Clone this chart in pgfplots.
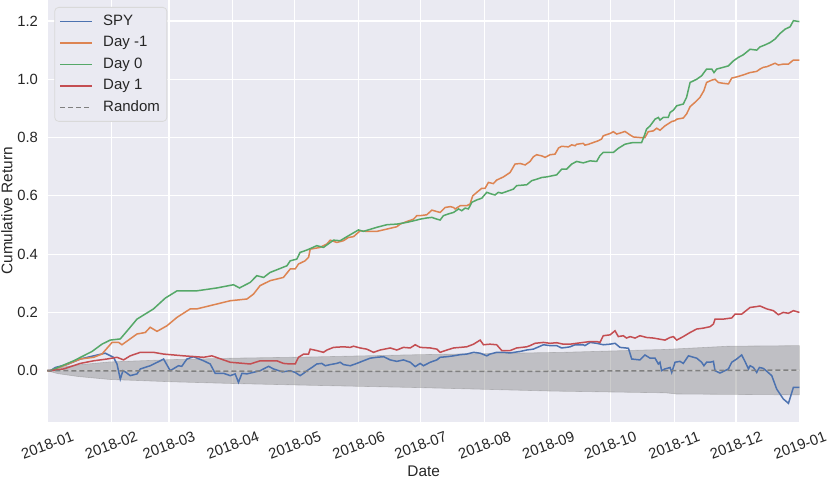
\documentclass[border=0pt]{standalone}
\usepackage{fontspec}
\setmainfont{Liberation Sans}
\usepackage{pgfplots}
\pgfplotsset{compat=1.18}
\definecolor{bgc}{HTML}{EAEAF2}
\definecolor{sblue}{HTML}{4C72B0}
\definecolor{sorange}{HTML}{DD8452}
\definecolor{sgreen}{HTML}{55A868}
\definecolor{sred}{HTML}{C44E52}
\begin{document}
\begin{tikzpicture}
\begin{axis}[
  scale only axis,
  width=376.35pt, height=210.85pt,
  xmin=0, xmax=365, ymin=-0.175, ymax=1.272,
  axis background/.style={fill=bgc},
  axis line style={draw=none},
  major tick length=0pt,
  grid=major,
  major grid style={white, line width=0.6pt},
  xtick={0,31,59,90,120,151,181,212,243,273,304,334,365},
  xticklabels={2018-01,2018-02,2018-03,2018-04,2018-05,2018-06,2018-07,2018-08,2018-09,2018-10,2018-11,2018-12,2019-01},
  ytick={0,0.2,0.4,0.6,0.8,1.0,1.2},
  /pgf/number format/assume math mode=true,
  yticklabel style={/pgf/number format/fixed, /pgf/number format/fixed zerofill, /pgf/number format/precision=1, inner sep=0pt},
  ticklabel style={font=\fontsize{7.4}{9}\selectfont, text=black!85},
  xticklabel style={rotate=20, anchor=center},
  xticklabel shift=11.8pt,
  yticklabel shift=4.5pt,
  xlabel={Date},
  ylabel={Cumulative Return},
  label style={font=\fontsize{7.7}{9}\selectfont, text=black!85},
  xlabel style={at={(axis description cs:0.5,-0.1169)}, anchor=center},
  ylabel style={at={(axis description cs:-0.0537,0.5)}, anchor=center},
  legend style={at={(0,1)}, anchor=north west, xshift=3.5pt, yshift=-3.5pt,
    fill=bgc, draw=black!15, rounded corners=2pt, inner sep=2.5pt,
    font=\fontsize{7.5}{9}\selectfont, text=black!85,
    nodes={inner sep=1pt, text height=5.5pt, text depth=1.5pt},
    row sep=1.75pt},
  legend cell align=left,
  legend image code/.code={\draw[#1] (0pt,0pt) -- (16pt,0pt); \path (20pt,0pt);},
  every axis plot/.append style={line width=0.75pt},
]
% band
\addplot[fill=gray, fill opacity=0.4, draw=gray, draw opacity=0.4, line width=0.3pt, forget plot] coordinates {
(0,0) (5,0.01) (15,0.02) (30,0.03) (60,0.038) (90,0.043) (127,0.047) (180,0.055) (250,0.063) (300,0.073) (330,0.084) (364.7,0.086)
(364.7,-0.083) (305,-0.08) (300,-0.076) (245,-0.07) (180,-0.058) (127,-0.05) (90,-0.044) (60,-0.038) (30,-0.03) (15,-0.02) (5,-0.01) (0,0)
} -- cycle;
% SPY
\addplot[sblue] coordinates {
(0,0) (1.5,0) (3.9,0.011) (9.5,0.021) (16,0.04) (22.5,0.051) (28.1,0.06) (32.1,0.046) (33.8,0.023) (35.4,-0.029) (36.7,0) (38,-0.005) (40.2,-0.017) (43.5,-0.011) (45.1,0.006) (49.9,0.017) (54.8,0.034) (56.4,0.04) (59.6,0) (63.6,0.017) (65.2,0.015) (67.7,0.04) (70.9,0.048) (75.8,0.034) (79,0.023) (81.4,-0.009) (85.5,-0.009) (88.7,-0.017) (91.1,-0.011) (92.7,-0.04) (94.4,-0.009) (96.8,-0.011) (103.2,0) (107.3,0.015) (109.7,0.006) (114,-0.004) (117.8,0) (120.2,-0.006) (122.6,-0.017) (124.3,-0.009) (125.9,0) (128.3,0.011) (130.7,0.023) (133.1,0.025) (134.8,0.017) (137.2,0.021) (140.4,0.025) (142,0.029) (143.6,0.021) (146.9,0.017) (150.1,0.025) (153.3,0.034) (156.6,0.043) (159.8,0.046) (163.1,0.048) (166.3,0.037) (169.5,0.032) (172.7,0.037) (176,0.029) (178.4,0.014) (180.8,0.025) (182.4,0.017) (185.7,0.029) (188.9,0.037) (190.5,0.046) (193.8,0.048) (197,0.051) (200.2,0.055) (203.4,0.057) (206.7,0.063) (209.9,0.06) (213.1,0.051) (214.7,0.057) (217.9,0.063) (221.2,0.063) (224.4,0.061) (229.3,0.066) (232.5,0.071) (235.7,0.074) (240.6,0.089) (243.8,0.086) (247,0.086) (249.4,0.078) (251.8,0.08) (253.5,0.082) (255.9,0.089) (259.9,0.089) (260.7,0.086) (263.2,0.097) (266.4,0.094) (269.6,0.089) (272.9,0.091) (275.3,0.094) (277.7,0.08) (281.8,0.077) (283.4,0.04) (287.4,0.037) (289.8,0.054) (292.3,0.043) (294.7,0.043) (296.3,0.023) (297.1,0.029) (297.9,0) (299.5,0.006) (302,0.011) (302.8,-0.006) (304.4,0.029) (306.8,0.032) (308.4,0.025) (310.9,0.051) (314.9,0.043) (317.3,0.029) (318.4,0.017) (319.7,0.029) (321.4,0.029) (323,0.032) (323.8,0) (326.2,-0.008) (328.6,0) (330.3,0.006) (331.9,0.029) (334.3,0.04) (336.7,0.054) (338.3,0.032) (340,0.006) (340.8,0.017) (342.4,0.011) (344,-0.006) (345.3,0.011) (347.2,0.008) (348.9,-0.002) (351.3,-0.017) (353.7,-0.063) (356.9,-0.097) (359.4,-0.112) (361.8,-0.057) (364.7,-0.057)
};
\addlegendentry{SPY}
% Day -1
\addplot[sorange] coordinates {
(0,0) (1.5,0) (7.9,0.017) (16,0.04) (22.5,0.046) (26.5,0.057) (31.4,0.097) (34.6,0.097) (36.2,0.089) (43.5,0.126) (47.5,0.131) (49.9,0.149) (53.2,0.135) (58,0.154) (62.9,0.183) (69.3,0.212) (72.5,0.212) (80.6,0.226) (88.7,0.24) (96.8,0.246) (100,0.263) (103.2,0.292) (108.1,0.309) (114.5,0.32) (117.8,0.349) (120.2,0.349) (121.8,0.366) (125,0.377) (126.7,0.389) (127.5,0.417) (132.3,0.423) (135.6,0.435) (137.2,0.448) (140.4,0.44) (143.6,0.446) (146,0.457) (148.5,0.46) (151.7,0.48) (154.9,0.478) (159.8,0.478) (164.7,0.486) (169.5,0.494) (171.1,0.503) (174.4,0.512) (177.6,0.52) (179.2,0.532) (180.8,0.532) (184,0.535) (186.5,0.551) (188.9,0.546) (190.5,0.543) (192.9,0.56) (195.4,0.563) (197,0.56) (197.8,0.555) (200.2,0.566) (203.4,0.566) (205,0.572) (206.3,0.6) (208.3,0.612) (210.7,0.626) (212.3,0.626) (213.9,0.646) (216.3,0.642) (217.9,0.654) (221.2,0.665) (224.4,0.68) (226.8,0.709) (229.3,0.711) (231.7,0.706) (234.1,0.718) (235.7,0.734) (237.3,0.741) (239.8,0.737) (241.4,0.732) (243.8,0.741) (246.2,0.743) (247.9,0.764) (249.4,0.77) (252.7,0.768) (254.3,0.775) (255.9,0.772) (256.7,0.777) (259.9,0.78) (260.7,0.774) (262.4,0.777) (264.8,0.783) (267.2,0.789) (268.8,0.795) (269.6,0.806) (272.9,0.814) (274.5,0.82) (276.1,0.812) (278.5,0.817) (280.1,0.821) (282.6,0.809) (284.2,0.802) (287.4,0.8) (289.8,0.8) (291.4,0.82) (293.9,0.823) (295.5,0.832) (297.1,0.825) (299.5,0.84) (302.8,0.855) (304.4,0.858) (305.2,0.863) (308.4,0.867) (310,0.881) (311.7,0.906) (314.1,0.921) (316.5,0.938) (318.4,0.961) (319.7,0.989) (322.2,0.997) (323.8,1.0) (325.4,0.989) (327.8,0.986) (330.3,0.984) (331.9,1.004) (334.3,1.008) (337.5,1.015) (340.8,1.023) (344,1.027) (345.6,1.035) (347.2,1.041) (348.9,1.043) (352.9,1.055) (354.5,1.049) (356.9,1.052) (359.4,1.052) (361.8,1.066) (364.7,1.066)
};
\addlegendentry{Day -1}
% Day 0
\addplot[sgreen] coordinates {
(0,0) (1.5,0) (12.8,0.034) (21.7,0.066) (26.5,0.091) (30.5,0.105) (35.4,0.109) (40.2,0.149) (43.5,0.177) (51.5,0.212) (57.2,0.249) (62.9,0.274) (72.5,0.274) (82.3,0.284) (90.3,0.295) (93.2,0.284) (98.4,0.303) (101.6,0.326) (104.9,0.32) (108,0.337) (116.2,0.36) (117.8,0.377) (121,0.383) (122.6,0.406) (125.9,0.414) (130.7,0.429) (133.9,0.423) (138.8,0.448) (142,0.446) (145.3,0.46) (150.9,0.483) (153.3,0.478) (159.8,0.492) (164.7,0.501) (169.5,0.503) (174.4,0.509) (179.2,0.517) (180.8,0.52) (184,0.524) (186.5,0.526) (188.9,0.52) (190.5,0.517) (192.1,0.532) (194.5,0.538) (197,0.543) (199.4,0.555) (201,0.549) (202.6,0.558) (204.2,0.555) (205.9,0.578) (208.3,0.586) (210.7,0.592) (213.1,0.612) (215.5,0.606) (217.1,0.603) (218.7,0.612) (220.4,0.609) (222.8,0.615) (226,0.623) (227.6,0.635) (232.5,0.638) (234.9,0.652) (237.3,0.657) (239.8,0.663) (242.2,0.665) (247,0.672) (249.5,0.692) (251.9,0.692) (254.3,0.709) (256.7,0.718) (259.9,0.713) (263.2,0.72) (266.4,0.718) (268,0.738) (269.6,0.749) (274.5,0.749) (276.9,0.763) (280.1,0.777) (282.6,0.781) (284.2,0.783) (288.2,0.783) (289.8,0.812) (290.6,0.829) (292.3,0.84) (294.7,0.863) (296.3,0.869) (297.1,0.86) (298.7,0.869) (301.1,0.869) (302,0.886) (303.6,0.894) (305.2,0.909) (308.4,0.915) (310,0.938) (311.7,0.989) (314.9,1.0) (317.3,1.012) (319.7,1.035) (322.2,1.035) (323.3,1.023) (324.6,1.035) (327.8,1.041) (330.3,1.046) (332.7,1.063) (335.1,1.075) (337.5,1.084) (340.8,1.103) (344,1.1) (345.6,1.111) (348.1,1.118) (350.5,1.126) (352.9,1.138) (355.3,1.157) (357.8,1.172) (360.2,1.18) (361.8,1.201) (364.7,1.198)
};
\addlegendentry{Day 0}
% Day 1
\addplot[sred] coordinates {
(0,0) (1.5,0) (7.9,0.006) (16,0.025) (22.5,0.034) (28.9,0.04) (33.8,0.046) (37,0.037) (40.2,0.051) (45.1,0.063) (51.5,0.063) (56.4,0.057) (66.1,0.051) (75.8,0.046) (79.8,0.051) (88.7,0.029) (98.4,0.023) (103.2,0.034) (111.3,0.034) (114.5,0.025) (117.8,0.023) (120.2,0.023) (121.8,0.046) (124.3,0.057) (126.7,0.057) (127.5,0.074) (130.7,0.069) (133.9,0.063) (135.6,0.071) (138.8,0.08) (143.6,0.082) (146.9,0.08) (148.5,0.084) (151.7,0.078) (154.9,0.074) (158.2,0.063) (161.4,0.071) (166.3,0.078) (169.5,0.071) (172.7,0.08) (176,0.078) (178.4,0.089) (180.8,0.08) (185.7,0.078) (188.9,0.074) (190.5,0.063) (193.8,0.071) (197,0.078) (200.2,0.08) (203.4,0.082) (206.7,0.091) (209.9,0.105) (211.5,0.089) (214.7,0.091) (217.9,0.089) (220.4,0.069) (224.4,0.069) (227.6,0.078) (232.5,0.082) (234.1,0.086) (236.5,0.094) (240.6,0.097) (243.8,0.094) (247,0.096) (250.2,0.091) (253.5,0.091) (256.7,0.094) (259.9,0.097) (263.2,0.1) (266.4,0.1) (268,0.097) (269.6,0.12) (272.9,0.123) (275.3,0.137) (276.9,0.117) (279.3,0.12) (280.9,0.112) (282.6,0.117) (285,0.112) (287.4,0.12) (290.6,0.114) (293.9,0.112) (297.1,0.108) (299.5,0.105) (302,0.114) (303.6,0.117) (305.2,0.105) (308.4,0.117) (311.7,0.131) (314.9,0.143) (318.1,0.146) (321.4,0.151) (323,0.16) (323.8,0.177) (327.8,0.177) (331.9,0.181) (333.5,0.194) (336.7,0.194) (339.2,0.208) (340.8,0.217) (344,0.22) (345.6,0.222) (348.9,0.212) (352.1,0.206) (354.5,0.192) (356.9,0.2) (359.4,0.197) (361.8,0.206) (364.7,0.2)
};
\addlegendentry{Day 1}
% Random
\addplot[gray, dashed, dash pattern=on 2.5pt off 1.5pt] coordinates {
(0,0) (60,-0.001) (120,-0.002) (180,-0.002) (240,-0.002) (300,0.0) (364.7,0.002)
};
\addlegendentry{Random}
\end{axis}
\pgfresetboundingbox
\useasboundingbox (-23.65pt,-29.15pt) rectangle (391.35pt,210.85pt);
\end{tikzpicture}
\end{document}
